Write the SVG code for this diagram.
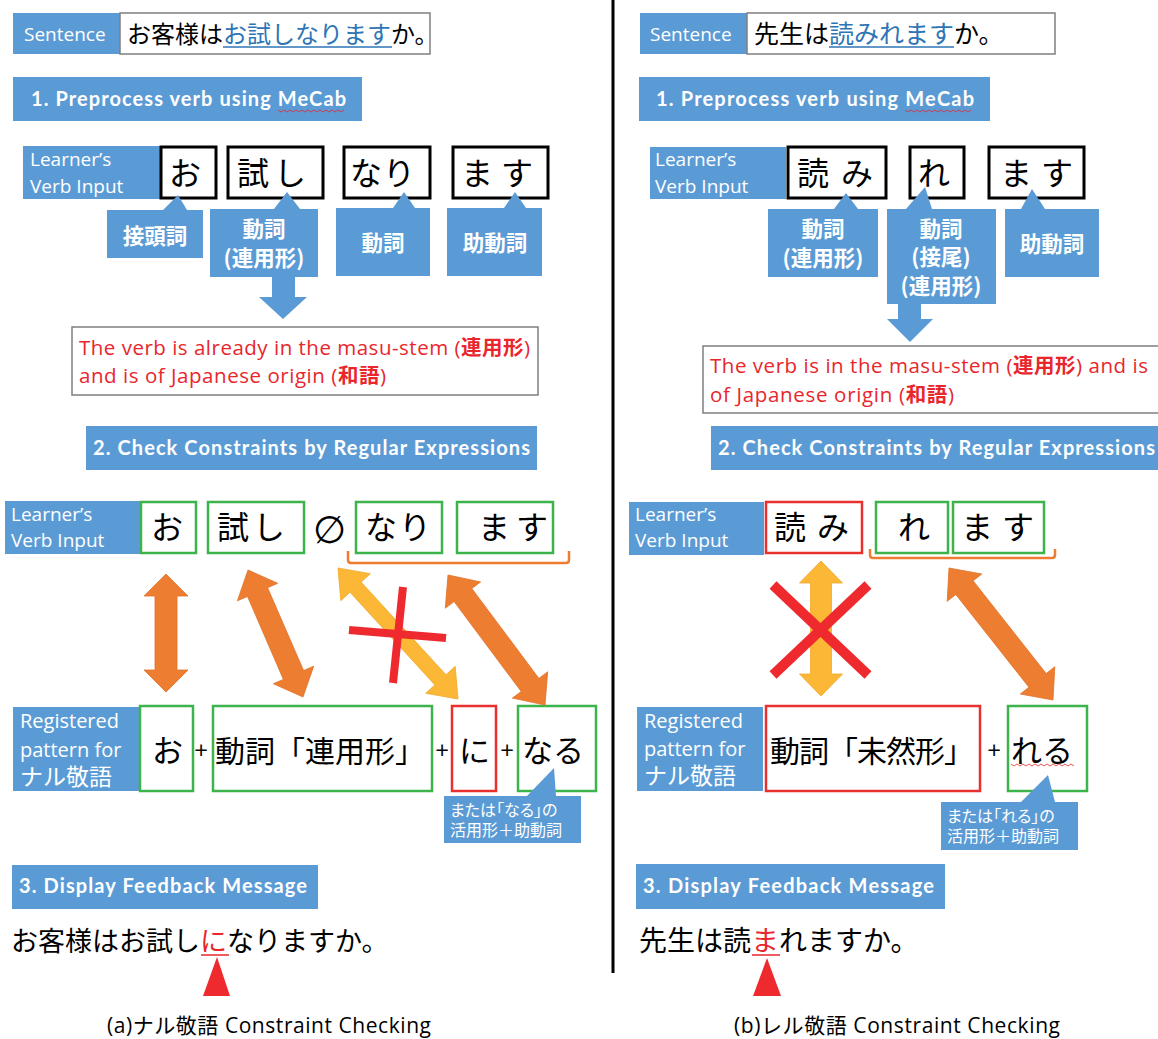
<svg xmlns="http://www.w3.org/2000/svg" width="1158" height="1039" viewBox="0 0 1158 1039">
<defs>
<style>
.bl{fill:#5B9BD5}
.lb{font-family:"Open Sans","Noto Sans CJK JP",sans-serif;fill:#fff}
.tt{font-family:Lato,"Noto Sans","Noto Sans CJK JP",sans-serif;font-weight:700;font-size:20px;fill:#fff}
.jp{font-family:"Noto Sans CJK JP",sans-serif;fill:#000}
.cw{font-family:"Noto Sans CJK JP",sans-serif;font-weight:700;fill:#fff;font-size:21.5px;text-anchor:middle}
.sm{font-family:"Noto Sans CJK JP",sans-serif;fill:#fff;font-size:16px;font-feature-settings:"palt"}
.kb{fill:#fff;stroke:#000;stroke-width:3}
.gb{fill:#fff;stroke:#3CB44B;stroke-width:2.5}
.rb{fill:#fff;stroke:#E8302E;stroke-width:2.5}
.wb{fill:#fff;stroke:#7F7F7F;stroke-width:1.5}
.rt{font-family:"Open Sans","Noto Sans CJK JP",sans-serif;font-size:20.5px;fill:#E8262C}
.or{fill:#ED7D31;stroke:#E27128;stroke-width:0.8}
.ye{fill:#FBB735;stroke:#EFA82A;stroke-width:0.8}
.rx{stroke:#EE2A2F;stroke-linecap:butt;fill:none}
.br{fill:none;stroke:#ED7D31;stroke-width:2.5}
.pl{font-family:"Open Sans",sans-serif;font-size:24px;fill:#000;text-anchor:middle}
.cap{font-family:"Open Sans","Noto Sans CJK JP",sans-serif;font-size:21px;fill:#000}
.wv{fill:none;stroke:#E8262C;stroke-width:0.8}
</style>
</defs>

<!-- divider -->
<line x1="613" y1="0" x2="613" y2="973" stroke="#000" stroke-width="3"/>

<!-- ================= LEFT (a) ================= -->
<g id="a-sentence">
<rect class="bl" x="13" y="13" width="107" height="41"/>
<text class="lb" x="24" y="41" font-size="19">Sentence</text>
<rect class="wb" x="120" y="13" width="310" height="41"/>
<text class="jp" x="127" y="43" font-size="24">お客様は<tspan fill="#2E75B6">お試しなります</tspan>か。</text>
<line x1="223" y1="47" x2="392" y2="47" stroke="#2E75B6" stroke-width="1.5"/>
</g>

<g id="a-step1">
<rect class="bl" x="13" y="77" width="349" height="44"/>
<text class="tt" x="31" y="106" textLength="315">1. Preprocess verb using MeCab</text>
<path class="wv" d="M278,110 l3,2 l3,-2 l3,2 l3,-2 l3,2 l3,-2 l3,2 l3,-2 l3,2 l3,-2 l3,2 l3,-2 l3,2 l3,-2 l3,2 l3,-2 l3,2 l3,-2 l3,2 l3,-2 l3,2 l3,-2"/>
</g>

<g id="a-input1">
<rect class="bl" x="23" y="146" width="137" height="53"/>
<text class="lb" x="30" y="166" font-size="19">Learner’s</text>
<text class="lb" x="30" y="193" font-size="19">Verb Input</text>
<rect class="kb" x="161" y="147" width="55" height="51"/>
<rect class="kb" x="228" y="147" width="95" height="51"/>
<rect class="kb" x="344" y="147" width="86" height="51"/>
<rect class="kb" x="453" y="147" width="95" height="51"/>
<text class="jp" font-size="32" x="169" y="185">お</text>
<text class="jp" font-size="32" x="237 274" y="185">試し</text>
<text class="jp" font-size="32" x="350 383" y="185">なり</text>
<text class="jp" font-size="32" x="461 501" y="185">ます</text>
</g>

<g id="a-pos">
<path class="bl" d="M107,210 H163 L178,195 L187,210 H203 V258 H107 Z"/>
<text class="cw" x="155" y="244">接頭詞</text>
<path class="bl" d="M210,209 H274 L287,192 L300,209 H318 V277 H210 Z"/>
<text class="cw" x="264" y="237">動詞</text>
<text class="cw" x="264" y="266">(連用形)</text>
<path class="bl" d="M336,208 H393 L404,192 L415,208 H430 V276 H336 Z"/>
<text class="cw" x="383" y="251">動詞</text>
<path class="bl" d="M447,208 H504 L515,192 L526,208 H542 V276 H447 Z"/>
<text class="cw" x="495" y="251">助動詞</text>
<path class="bl" d="M272,277 H295 V297 H307 L283,319 L259,297 H272 Z"/>
</g>

<g id="a-note">
<rect class="wb" x="72" y="327" width="466" height="68"/>
<text class="rt" x="79" y="355" textLength="451">The verb is already in the masu-stem (<tspan font-weight="700">連用形</tspan>)</text>
<text class="rt" x="79" y="383" textLength="307">and is of Japanese origin (<tspan font-weight="700">和語</tspan>)</text>
</g>

<g id="a-step2">
<rect class="bl" x="86" y="426" width="451" height="44"/>
<text class="tt" x="93" y="455" textLength="437">2. Check Constraints by Regular Expressions</text>
</g>

<g id="a-input2">
<rect class="bl" x="5" y="501" width="135" height="53"/>
<text class="lb" x="11" y="521" font-size="19">Learner’s</text>
<text class="lb" x="11" y="547" font-size="19">Verb Input</text>
<rect class="gb" x="141" y="502" width="55" height="51"/>
<rect class="gb" x="208" y="502" width="96" height="51"/>
<rect class="gb" x="356" y="502" width="86" height="51"/>
<rect class="gb" x="457" y="502" width="96" height="51"/>
<text class="jp" font-size="32" x="151" y="539">お</text>
<text class="jp" font-size="32" x="217 253" y="539">試し</text>
<text x="313" y="543" font-family="DejaVu Sans,sans-serif" font-size="38" fill="#000">∅</text>
<text class="jp" font-size="32" x="365 399" y="539">なり</text>
<text class="jp" font-size="32" x="478 516" y="539">ます</text>
<path class="br" d="M348,551 V560 Q348,563 351,563 H566 Q569,563 569,560 V551"/>
</g>

<g id="a-pattern">
<rect class="bl" x="13" y="707" width="126" height="84"/>
<text class="lb" x="20" y="728" font-size="20">Registered</text>
<text class="lb" x="20" y="757" font-size="20">pattern for</text>
<text class="lb" x="20" y="785" font-size="23">ナル敬語</text>
<rect class="gb" x="140" y="706" width="53" height="85"/>
<rect class="gb" x="213" y="706" width="219" height="85"/>
<rect class="rb" x="452" y="706" width="44" height="85"/>
<rect class="gb" x="518" y="706" width="78" height="85"/>
<text class="jp" font-size="31" x="152" y="762">お</text>
<text class="pl" x="201" y="759">+</text>
<text class="jp" font-size="30" x="215" y="762" textLength="210">動詞「連用形」</text>
<text class="pl" x="442" y="759">+</text>
<text class="jp" font-size="31" x="459" y="762">に</text>
<text class="pl" x="507" y="759">+</text>
<text class="jp" font-size="31" x="522" y="762">なる</text>
</g>

<g id="a-note2">
<path class="bl" d="M444,796 H527 L554,768 L556,796 H581 V843 H444 Z"/>
<text class="sm" x="450" y="816">または「なる」の</text>
<text class="sm" x="450" y="836">活用形＋助動詞</text>
</g>

<g id="a-step3">
<rect class="bl" x="12" y="865" width="306" height="44"/>
<text class="tt" x="19" y="893" textLength="288">3. Display Feedback Message</text>
</g>

<g id="a-feedback">
<text class="jp" font-size="27" x="11" y="951">お客様はお試し<tspan fill="#E8262C">に</tspan>なりますか。</text>
<line x1="201" y1="955" x2="229" y2="955" stroke="#E8262C" stroke-width="1.5"/>
<polygon points="217,957 230,996 203,996" fill="#EE2A2F"/>
<text class="cap" x="107" y="1033" textLength="324">(a)ナル敬語 Constraint Checking</text>
</g>

<!-- ================= RIGHT (b) ================= -->
<g id="b-sentence">
<rect class="bl" x="640" y="13" width="107" height="41"/>
<text class="lb" x="650" y="41" font-size="19">Sentence</text>
<rect class="wb" x="747" y="13" width="308" height="41"/>
<text class="jp" x="754" y="43" font-size="25">先生は<tspan fill="#2E75B6">読みれます</tspan>か。</text>
<line x1="829" y1="47" x2="954" y2="47" stroke="#2E75B6" stroke-width="1.5"/>
</g>

<g id="b-step1">
<rect class="bl" x="639" y="77" width="351" height="44"/>
<text class="tt" x="656" y="106" textLength="318">1. Preprocess verb using MeCab</text>
<path class="wv" d="M905,110 l3,2 l3,-2 l3,2 l3,-2 l3,2 l3,-2 l3,2 l3,-2 l3,2 l3,-2 l3,2 l3,-2 l3,2 l3,-2 l3,2 l3,-2 l3,2 l3,-2 l3,2 l3,-2 l3,2 l3,-2"/>
</g>

<g id="b-input1">
<rect class="bl" x="650" y="147" width="136" height="52"/>
<text class="lb" x="655" y="166" font-size="19">Learner’s</text>
<text class="lb" x="655" y="193" font-size="19">Verb Input</text>
<rect class="kb" x="788" y="147" width="98" height="51"/>
<rect class="kb" x="910" y="147" width="54" height="51"/>
<rect class="kb" x="989" y="147" width="95" height="51"/>
<text class="jp" font-size="32" x="797 841" y="185">読み</text>
<text class="jp" font-size="32" x="918" y="185">れ</text>
<text class="jp" font-size="32" x="1000 1041" y="185">ます</text>
</g>

<g id="b-pos">
<path class="bl" d="M768,209 H834 L846,193 L858,209 H878 V277 H768 Z"/>
<text class="cw" x="823" y="237">動詞</text>
<text class="cw" x="823" y="266">(連用形)</text>
<path class="bl" d="M887,209 H906 L925,187 L932,209 H996 V304 H887 Z"/>
<text class="cw" x="941" y="237">動詞</text>
<text class="cw" x="941" y="265">(接尾)</text>
<text class="cw" x="941" y="294">(連用形)</text>
<path class="bl" d="M1005,209 H1021 L1032,189 L1045,209 H1099 V277 H1005 Z"/>
<text class="cw" x="1052" y="252">助動詞</text>
<path class="bl" d="M898,304 H921 V319 H933 L910,342 L887,319 H898 Z"/>
</g>

<g id="b-note">
<rect class="wb" x="703" y="346" width="470" height="67"/>
<text class="rt" x="710" y="373" textLength="438">The verb is in the masu-stem (<tspan font-weight="700">連用形</tspan>) and is</text>
<text class="rt" x="710" y="402" textLength="244">of Japanese origin (<tspan font-weight="700">和語</tspan>)</text>
</g>

<g id="b-step2">
<rect class="bl" x="711" y="426" width="460" height="44"/>
<text class="tt" x="718" y="455" textLength="437">2. Check Constraints by Regular Expressions</text>
</g>

<g id="b-input2">
<rect class="bl" x="629" y="502" width="135" height="53"/>
<text class="lb" x="635" y="521" font-size="19">Learner’s</text>
<text class="lb" x="635" y="547" font-size="19">Verb Input</text>
<rect class="rb" x="766" y="502" width="96" height="51"/>
<rect class="gb" x="876" y="502" width="72" height="51"/>
<rect class="gb" x="953" y="502" width="91" height="51"/>
<text class="jp" font-size="32" x="774 817" y="539">読み</text>
<text class="jp" font-size="32" x="898" y="539">れ</text>
<text class="jp" font-size="32" x="961 1002" y="539">ます</text>
<path class="br" d="M870,549 V555 Q870,558 873,558 H1052 Q1055,558 1055,555 V549"/>
</g>

<g id="b-pattern">
<rect class="bl" x="637" y="707" width="126" height="84"/>
<text class="lb" x="644" y="728" font-size="20">Registered</text>
<text class="lb" x="644" y="756" font-size="20">pattern for</text>
<text class="lb" x="644" y="784" font-size="23">ナル敬語</text>
<rect class="rb" x="766" y="706" width="214" height="85"/>
<rect class="gb" x="1008" y="706" width="79" height="85"/>
<text class="jp" font-size="30" x="770" y="762" textLength="204">動詞「未然形」</text>
<text class="pl" x="994" y="759">+</text>
<text class="jp" font-size="31" x="1011" y="762">れる</text>
<path class="wv" d="M1011,764 l3,2 l3,-2 l3,2 l3,-2 l3,2 l3,-2 l3,2 l3,-2 l3,2 l3,-2 l3,2 l3,-2 l3,2 l3,-2 l3,2 l3,-2 l3,2 l3,-2 l3,2 l3,-2 l3,2"/>
</g>

<g id="b-note2">
<path class="bl" d="M941,802 H1021 L1048,775 L1055,802 H1078 V850 H941 Z"/>
<text class="sm" x="947" y="822">または「れる」の</text>
<text class="sm" x="947" y="842">活用形＋助動詞</text>
</g>

<g id="b-step3">
<rect class="bl" x="636" y="864" width="309" height="45"/>
<text class="tt" x="643" y="893" textLength="291">3. Display Feedback Message</text>
</g>

<g id="b-feedback">
<text class="jp" font-size="28" x="639" y="951">先生は読<tspan fill="#E8262C">ま</tspan>れますか。</text>
<line x1="752" y1="955" x2="780" y2="955" stroke="#E8262C" stroke-width="1.5"/>
<polygon points="767,958 781,996 753,996" fill="#EE2A2F"/>
<text class="cap" x="734" y="1033" textLength="326">(b)レル敬語 Constraint Checking</text>
</g>

<!-- ================= CONNECTORS ================= -->
<g id="connectors">
<polygon class="or" points="166,574 188,596 177,596 177,670 188,670 166,692 144,670 155,670 155,596 144,596"/>
<polygon class="or" points="248,570 277.7,583.3 267.6,587.7 303.6,670.6 313.7,666.2 303,697 273.3,683.7 283.4,679.4 247.5,596.4 237.4,600.8"/>
<polygon class="ye" points="338,568 370.3,573.7 361.1,582.1 446,674.8 455.2,666.3 458,699 425.7,693.3 434.9,684.9 350,592.2 340.8,600.7"/>
<polygon class="or" points="448,575 480.6,581.9 471.8,588.5 538.9,678.4 547.7,671.8 545,705 512.4,698.1 521.2,691.5 454.1,601.6 445.3,608.2"/>
<line class="rx" x1="403" y1="587" x2="393" y2="683" stroke-width="8"/>
<line class="rx" x1="349" y1="630" x2="446" y2="638" stroke-width="8"/>

<polygon class="ye" points="821,561 842.5,583 831.5,583 831.5,674 842.5,674 821,696 799.5,674 810.5,674 810.5,583 799.5,583"/>
<line class="rx" x1="773" y1="585" x2="868" y2="675" stroke-width="10"/>
<line class="rx" x1="868" y1="585" x2="773" y2="675" stroke-width="10"/>
<polygon class="or" points="949,568 981.8,574 973.1,580.8 1046.2,673.6 1054.8,666.7 1053,700 1020.3,694 1028.9,687.2 955.8,594.5 947.2,601.3"/>
</g>
</svg>
